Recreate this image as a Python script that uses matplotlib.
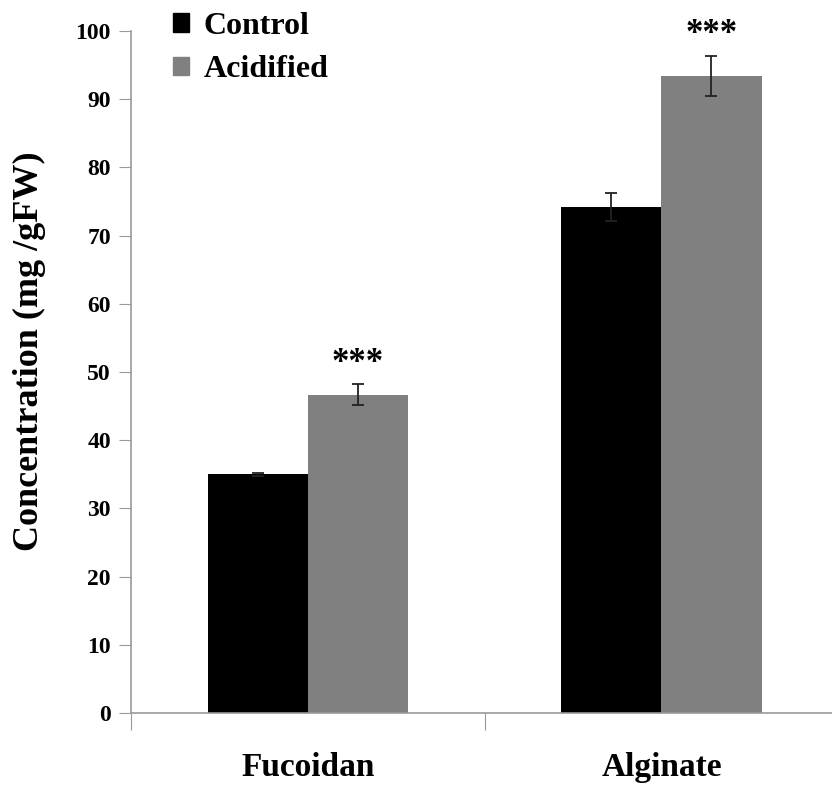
import numpy as np
import matplotlib
matplotlib.use("Agg")
import matplotlib.pyplot as plt
from matplotlib.patches import Patch

plt.rcParams['font.family'] = ['Liberation Serif', 'DejaVu Serif']
plt.rcParams['font.weight'] = 'bold'

categories = ["Fucoidan", "Alginate"]
control = [35.0, 74.2]
control_err = [0.2, 2.0]
acidified = [46.7, 93.4]
acidified_err = [1.5, 2.9]
signif = ["***", "***"]

fig = plt.figure(figsize=(8.32, 7.89), dpi=100)
ax = fig.add_axes([0.1575, 0.0963, 0.85, 0.8644])

x = np.arange(len(categories))
w = 0.283
ax.bar(x - w / 2, control, w, color="black", yerr=control_err,
       error_kw=dict(ecolor="#222222", capsize=4, elinewidth=1.3, capthick=1.3))
ax.bar(x + w / 2, acidified, w, color="#808080", yerr=acidified_err,
       error_kw=dict(ecolor="#222222", capsize=4, elinewidth=1.3, capthick=1.3))

for i in range(len(categories)):
    ax.text(x[i] + w / 2, acidified[i] + acidified_err[i] + 0.7, signif[i],
            ha="center", va="bottom", fontsize=25, fontweight="bold")

ax.set_xlim(-0.5, 1.5)
ax.set_ylim(0, 100)
ax.set_yticks(np.arange(0, 101, 10))
ax.set_xticks([-0.5, 0.5, 1.5], minor=False)
ax.set_xticklabels([])
ax.set_xticks(x, minor=True)
ax.set_xticklabels(categories, minor=True, fontsize=24, fontweight="bold")
ax.tick_params(axis="x", which="minor", length=0, pad=28)
ax.tick_params(axis="x", which="major", length=12, color="#999999", direction="out")
ax.tick_params(axis="y", length=9, color="#999999", direction="out", labelsize=17, pad=5.5)
for lab in ax.get_yticklabels():
    lab.set_fontweight("bold")

for s in ["top", "right"]:
    ax.spines[s].set_visible(False)
for s in ["left", "bottom"]:
    ax.spines[s].set_color("#999999")
    ax.spines[s].set_linewidth(1.2)

ax.set_ylabel("Concentration (mg /gFW)", fontsize=26, fontweight="bold")
ax.yaxis.set_label_coords(-0.12, 0.53)

handles = [Patch(color="black", label="Control"), Patch(color="#808080", label="Acidified")]
ax.legend(handles=handles, loc="upper left", bbox_to_anchor=(0.06, 1.028), frameon=False,
          handlelength=0.5, handleheight=0.5, handletextpad=0.45,
          labelspacing=0.45, borderaxespad=0, borderpad=0,
          prop={"weight": "bold", "size": 23})

fig.savefig("out.png", dpi=100)
